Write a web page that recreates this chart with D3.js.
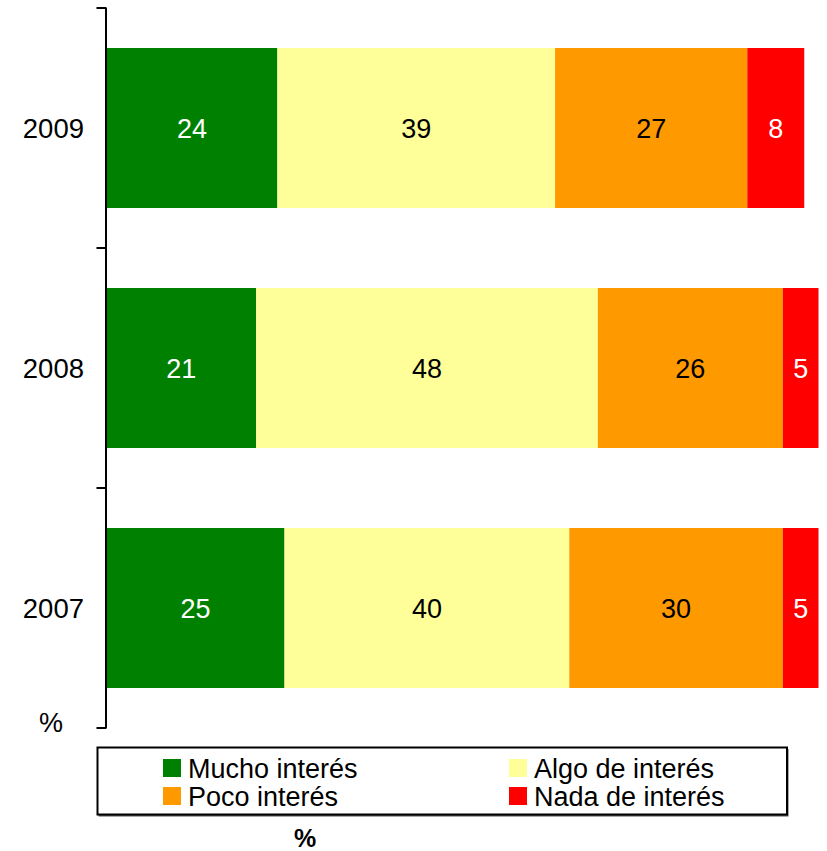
<!DOCTYPE html>
<html>
<head>
<meta charset="utf-8">
<script src="https://cdn.jsdelivr.net/npm/d3@7"></script>
<style>
  body { margin: 0; background: #fff; }
  svg { display: block; font-family: Arial, "Liberation Sans", sans-serif; }
</style>
</head>
<body>
<div id="figure"></div>
<script>
// chart data
var years = ["2009", "2008", "2007"];
var series = ["Mucho interés", "Algo de interés", "Poco interés", "Nada de interés"];
var mucho = [24, 21, 25];
var algo = [39, 48, 40];
var poco = [27, 26, 30];
var nada = [8, 5, 5];
var colors = ["#008000", "#ffff99", "#ff9900", "#ff0000"];
var labelColors = ["#fff", "#000", "#000", "#fff"];

var values = [mucho, algo, poco, nada];
var rows = years.map(function(yr, i) {
    var o = {year: yr};
    series.forEach(function(s, k) { o[s] = values[k][i]; });
    return o;
});

const W = 827, H = 851;
const plotL = 106.5, plotR = 818.5, plotT = 8, plotB = 728;

const svg = d3.select("#figure")
    .append("svg")
    .attr("width", W)
    .attr("height", H);

const x = d3.scaleLinear().domain([0, 100]).range([plotL, plotR]);
const y = d3.scaleBand().domain(years).range([plotT, plotB]).paddingInner(1/3).paddingOuter(1/6);

const stack = d3.stack().keys(series)(rows);

const groups = svg.selectAll("g.layer")
    .data(stack)
    .join("g")
    .attr("class", "layer")
    .attr("fill", (d, i) => colors[i]);

groups.selectAll("rect")
    .data(d => d)
    .join("rect")
    .attr("x", d => x(d[0]))
    .attr("y", d => y(d.data.year))
    .attr("width", d => x(d[1]) - x(d[0]))
    .attr("height", y.bandwidth());

groups.selectAll("text")
    .data((d, i) => d.map(v => ({v: v, i: i})))
    .join("text")
    .attr("x", d => (x(d.v[0]) + x(d.v[1])) / 2)
    .attr("y", d => y(d.v.data.year) + y.bandwidth() / 2)
    .attr("dy", "0.36em")
    .attr("text-anchor", "middle")
    .attr("font-size", 27)
    .attr("fill", d => labelColors[d.i])
    .text(d => d.v[1] - d.v[0]);

// y axis with ticks between categories
const step = y.step();
const ticks = [plotT, plotT + step, plotT + 2 * step, plotB];
svg.append("line")
    .attr("x1", plotL - 0.5).attr("x2", plotL - 0.5)
    .attr("y1", plotT).attr("y2", plotB)
    .attr("stroke", "#000").attr("stroke-width", 2);
svg.selectAll("line.tick")
    .data(ticks)
    .join("line")
    .attr("class", "tick")
    .attr("x1", plotL - 10).attr("x2", plotL)
    .attr("y1", d => d).attr("y2", d => d)
    .attr("stroke", "#000").attr("stroke-width", 2);

svg.selectAll("text.year")
    .data(years)
    .join("text")
    .attr("class", "year")
    .attr("x", 84)
    .attr("y", d => y(d) + y.bandwidth() / 2)
    .attr("dy", "0.36em")
    .attr("text-anchor", "end")
    .attr("font-size", 27.5)
    .text(d => d);

svg.append("text")
    .attr("x", 51).attr("y", 732)
    .attr("text-anchor", "middle")
    .attr("font-size", 27)
    .text("%");

// legend
const lg = svg.append("g");
lg.append("rect")
    .attr("x", 98.5).attr("y", 749).attr("width", 690).attr("height", 67.5)
    .attr("fill", "#555");
lg.append("rect")
    .attr("x", 97.5).attr("y", 747.5).attr("width", 689.5).attr("height", 67)
    .attr("fill", "#fff").attr("stroke", "#000").attr("stroke-width", 2);

const legendPos = [[163, 759], [509, 759], [163, 787], [509, 787]];
const items = lg.selectAll("g.item")
    .data(series)
    .join("g")
    .attr("class", "item")
    .attr("transform", (d, i) => `translate(${legendPos[i][0]},${legendPos[i][1]})`);
items.append("rect")
    .attr("width", 18).attr("height", 18)
    .attr("fill", (d, i) => colors[i]);
items.append("text")
    .attr("x", 25).attr("y", 9)
    .attr("dy", "0.36em")
    .attr("font-size", 27)
    .text(d => d);

svg.append("text")
    .attr("x", 305).attr("y", 847)
    .attr("text-anchor", "middle")
    .attr("font-size", 25)
    .attr("font-weight", "bold")
    .text("%");
</script>
</body>
</html>
